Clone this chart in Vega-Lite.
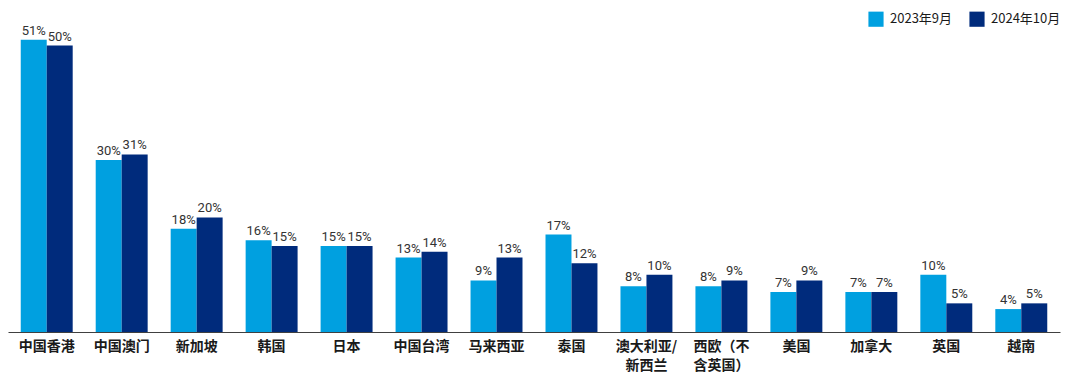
{
  "$schema": "https://vega.github.io/schema/vega-lite/v6.json",
  "width": 1052,
  "height": 322,
  "padding": {"left": 8, "top": 10, "right": 20, "bottom": 40},
  "autosize": {"type": "none"},
  "background": "white",
  "config": {"view": {"stroke": null}, "font": "Noto Sans CJK SC"},
  "data": {
    "values": [
      {"region": "中国香港", "period": "2023年9月", "value": 51},
      {"region": "中国香港", "period": "2024年10月", "value": 50},
      {"region": "中国澳门", "period": "2023年9月", "value": 30},
      {"region": "中国澳门", "period": "2024年10月", "value": 31},
      {"region": "新加坡", "period": "2023年9月", "value": 18},
      {"region": "新加坡", "period": "2024年10月", "value": 20},
      {"region": "韩国", "period": "2023年9月", "value": 16},
      {"region": "韩国", "period": "2024年10月", "value": 15},
      {"region": "日本", "period": "2023年9月", "value": 15},
      {"region": "日本", "period": "2024年10月", "value": 15},
      {"region": "中国台湾", "period": "2023年9月", "value": 13},
      {"region": "中国台湾", "period": "2024年10月", "value": 14},
      {"region": "马来西亚", "period": "2023年9月", "value": 9},
      {"region": "马来西亚", "period": "2024年10月", "value": 13},
      {"region": "泰国", "period": "2023年9月", "value": 17},
      {"region": "泰国", "period": "2024年10月", "value": 12},
      {"region": "澳大利亚/新西兰", "period": "2023年9月", "value": 8},
      {"region": "澳大利亚/新西兰", "period": "2024年10月", "value": 10},
      {"region": "西欧（不含英国）", "period": "2023年9月", "value": 8},
      {"region": "西欧（不含英国）", "period": "2024年10月", "value": 9},
      {"region": "美国", "period": "2023年9月", "value": 7},
      {"region": "美国", "period": "2024年10月", "value": 9},
      {"region": "加拿大", "period": "2023年9月", "value": 7},
      {"region": "加拿大", "period": "2024年10月", "value": 7},
      {"region": "英国", "period": "2023年9月", "value": 10},
      {"region": "英国", "period": "2024年10月", "value": 5},
      {"region": "越南", "period": "2023年9月", "value": 4},
      {"region": "越南", "period": "2024年10月", "value": 5}
    ]
  },
  "encoding": {
    "x": {
      "field": "region",
      "type": "nominal",
      "sort": null,
      "scale": {"paddingInner": 0.307, "paddingOuter": 0.17},
      "axis": {
        "title": null,
        "ticks": false,
        "labelAngle": 0,
        "labelFontSize": 14,
        "labelFontWeight": "bold",
        "labelColor": "#1a1a1a",
        "labelPadding": 7,
        "labelLineHeight": 19,
        "domainColor": "#404040",
        "domainWidth": 1.2,
        "labelExpr": "datum.value == '澳大利亚/新西兰' ? ['澳大利亚/', '新西兰'] : datum.value == '西欧（不含英国）' ? ['西欧（不', '含英国）'] : datum.value"
      }
    },
    "xOffset": {"field": "period", "type": "nominal", "sort": ["2023年9月", "2024年10月"], "scale": {"paddingInner": 0}},
    "y": {
      "field": "value",
      "type": "quantitative",
      "scale": {"domain": [0, 56.2], "nice": false},
      "axis": null
    }
  },
  "layer": [
    {
      "mark": {"type": "bar"},
      "encoding": {
        "color": {
          "field": "period",
          "type": "nominal",
          "sort": ["2023年9月", "2024年10月"],
          "scale": {"domain": ["2023年9月", "2024年10月"], "range": ["#00A0E0", "#002B7C"]},
          "legend": {
            "title": null,
            "orient": "none",
            "legendX": 860,
            "legendY": 1,
            "direction": "horizontal",
            "symbolType": "square",
            "symbolSize": 230,
            "symbolStrokeWidth": 0,
            "labelFontSize": 13,
            "labelColor": "#1a1a1a",
            "columnPadding": 16,
            "labelOffset": 6
          }
        }
      }
    },
    {
      "transform": [{"calculate": "datum.value + '%'", "as": "lbl"}],
      "mark": {"type": "text", "dy": -9, "fontSize": 13, "font": "Roboto", "color": "#333333"},
      "encoding": {
        "text": {"field": "lbl", "type": "nominal"},
        "detail": {"field": "period"}
      }
    }
  ]
}
